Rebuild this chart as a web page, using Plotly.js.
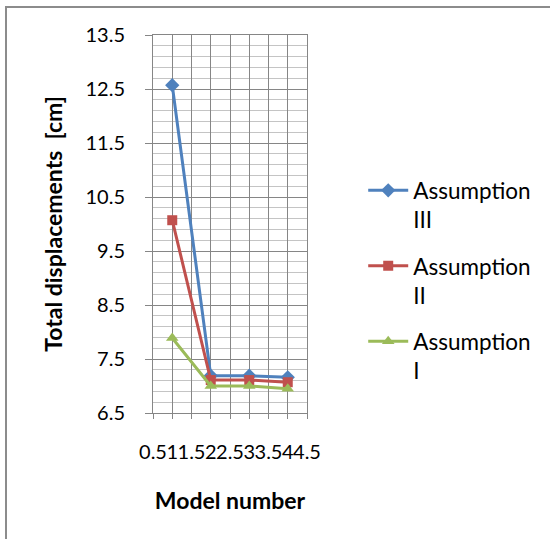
<!DOCTYPE html>
<html>
<head>
<meta charset="utf-8">
<script src="https://cdn.plot.ly/plotly-3.0.1.min.js"></script>
<style>
  html, body { margin: 0; padding: 0; background: #fff; overflow: hidden; }
  #wrap { position: relative; width: 550px; height: 539px; }
  #chart { position: absolute; left: 0; top: 0; width: 550px; height: 539px; }
  #frame { position: absolute; left: 5px; top: 6px; width: 700px; height: 700px;
           border: 2px solid #8c8c8c; pointer-events: none; }
</style>
</head>
<body>
<div id="wrap">
  <div id="chart"></div>
  <div id="frame"></div>
</div>
<script>
// Data
const modelNumbers = [1, 2, 3, 4];
const assumptionIII = [12.57, 7.19, 7.19, 7.16];
const assumptionII  = [10.07, 7.11, 7.11, 7.07];
const assumptionI   = [7.89, 7.00, 7.00, 6.95];
const seriesNames = ['Assumption<br>III', 'Assumption<br>II', 'Assumption<br>I'];

const FONT = 'Lato, Carlito, Calibri, "Open Sans", sans-serif';

const traces = [
  { x: modelNumbers, y: assumptionIII, name: seriesNames[0], legendgroup: 'a',
    mode: 'lines+markers', line: { color: '#4F81BD', width: 3 },
    marker: { symbol: 'diamond', size: 11, color: '#4F81BD' } },
  { x: modelNumbers, y: assumptionII, name: seriesNames[1], legendgroup: 'b',
    mode: 'lines+markers', line: { color: '#C0504D', width: 3 },
    marker: { symbol: 'square', size: 10, color: '#C0504D' } },
  { x: modelNumbers, y: assumptionI, name: seriesNames[2], legendgroup: 'c',
    mode: 'lines+markers', line: { color: '#9BBB59', width: 3 },
    marker: { symbol: 'triangle-up', size: 11, color: '#9BBB59' } }
];

const layout = {
  width: 550, height: 539,
  margin: { l: 153, r: 243, t: 35, b: 126, pad: 0 },
  paper_bgcolor: '#fff', plot_bgcolor: '#fff',
  font: { family: FONT, size: 20, color: '#000' },
  showlegend: true,
  legend: {
    x: 1.365, xanchor: 'left', y: 0.35, yanchor: 'middle',
    font: { family: FONT, size: 22.5, color: '#000' },
    valign: 'top', tracegroupgap: 14, itemwidth: 40,
    bgcolor: 'rgba(0,0,0,0)'
  },
  xaxis: {
    range: [0.5, 4.5], tick0: 0.5, dtick: 0.5, tickmode: 'linear',
    tickangle: 0, ticks: 'outside', ticklen: 5, tickcolor: '#868686',
    showgrid: true, gridcolor: '#868686', gridwidth: 1,
    showline: true, linecolor: '#868686', linewidth: 1, mirror: true,
    zeroline: false, ticklabelstandoff: 16,
    tickfont: { family: FONT, size: 20, color: '#000' },
    title: { text: '<b>Model number</b>', standoff: 30,
             font: { family: FONT, size: 23, color: '#000' } }
  },
  yaxis: {
    range: [6.5, 13.5], tick0: 6.5, dtick: 1, tickmode: 'linear',
    ticks: 'outside', ticklen: 7, tickcolor: '#868686',
    showgrid: true, gridcolor: '#868686', gridwidth: 1,
    minor: { tick0: 6.5, dtick: 0.2, showgrid: true, gridcolor: '#c4c4c4', gridwidth: 1,
             ticks: '' },
    showline: true, linecolor: '#868686', linewidth: 1, mirror: true,
    zeroline: false, ticklabelstandoff: 16,
    tickfont: { family: FONT, size: 20, color: '#000' },
    title: { text: '<b>Total displacements  [cm]</b>', standoff: 16,
             font: { family: FONT, size: 23, color: '#000' } }
  }
};

Plotly.newPlot('chart', traces, layout, { displayModeBar: false, staticPlot: true });
</script>
</body>
</html>
